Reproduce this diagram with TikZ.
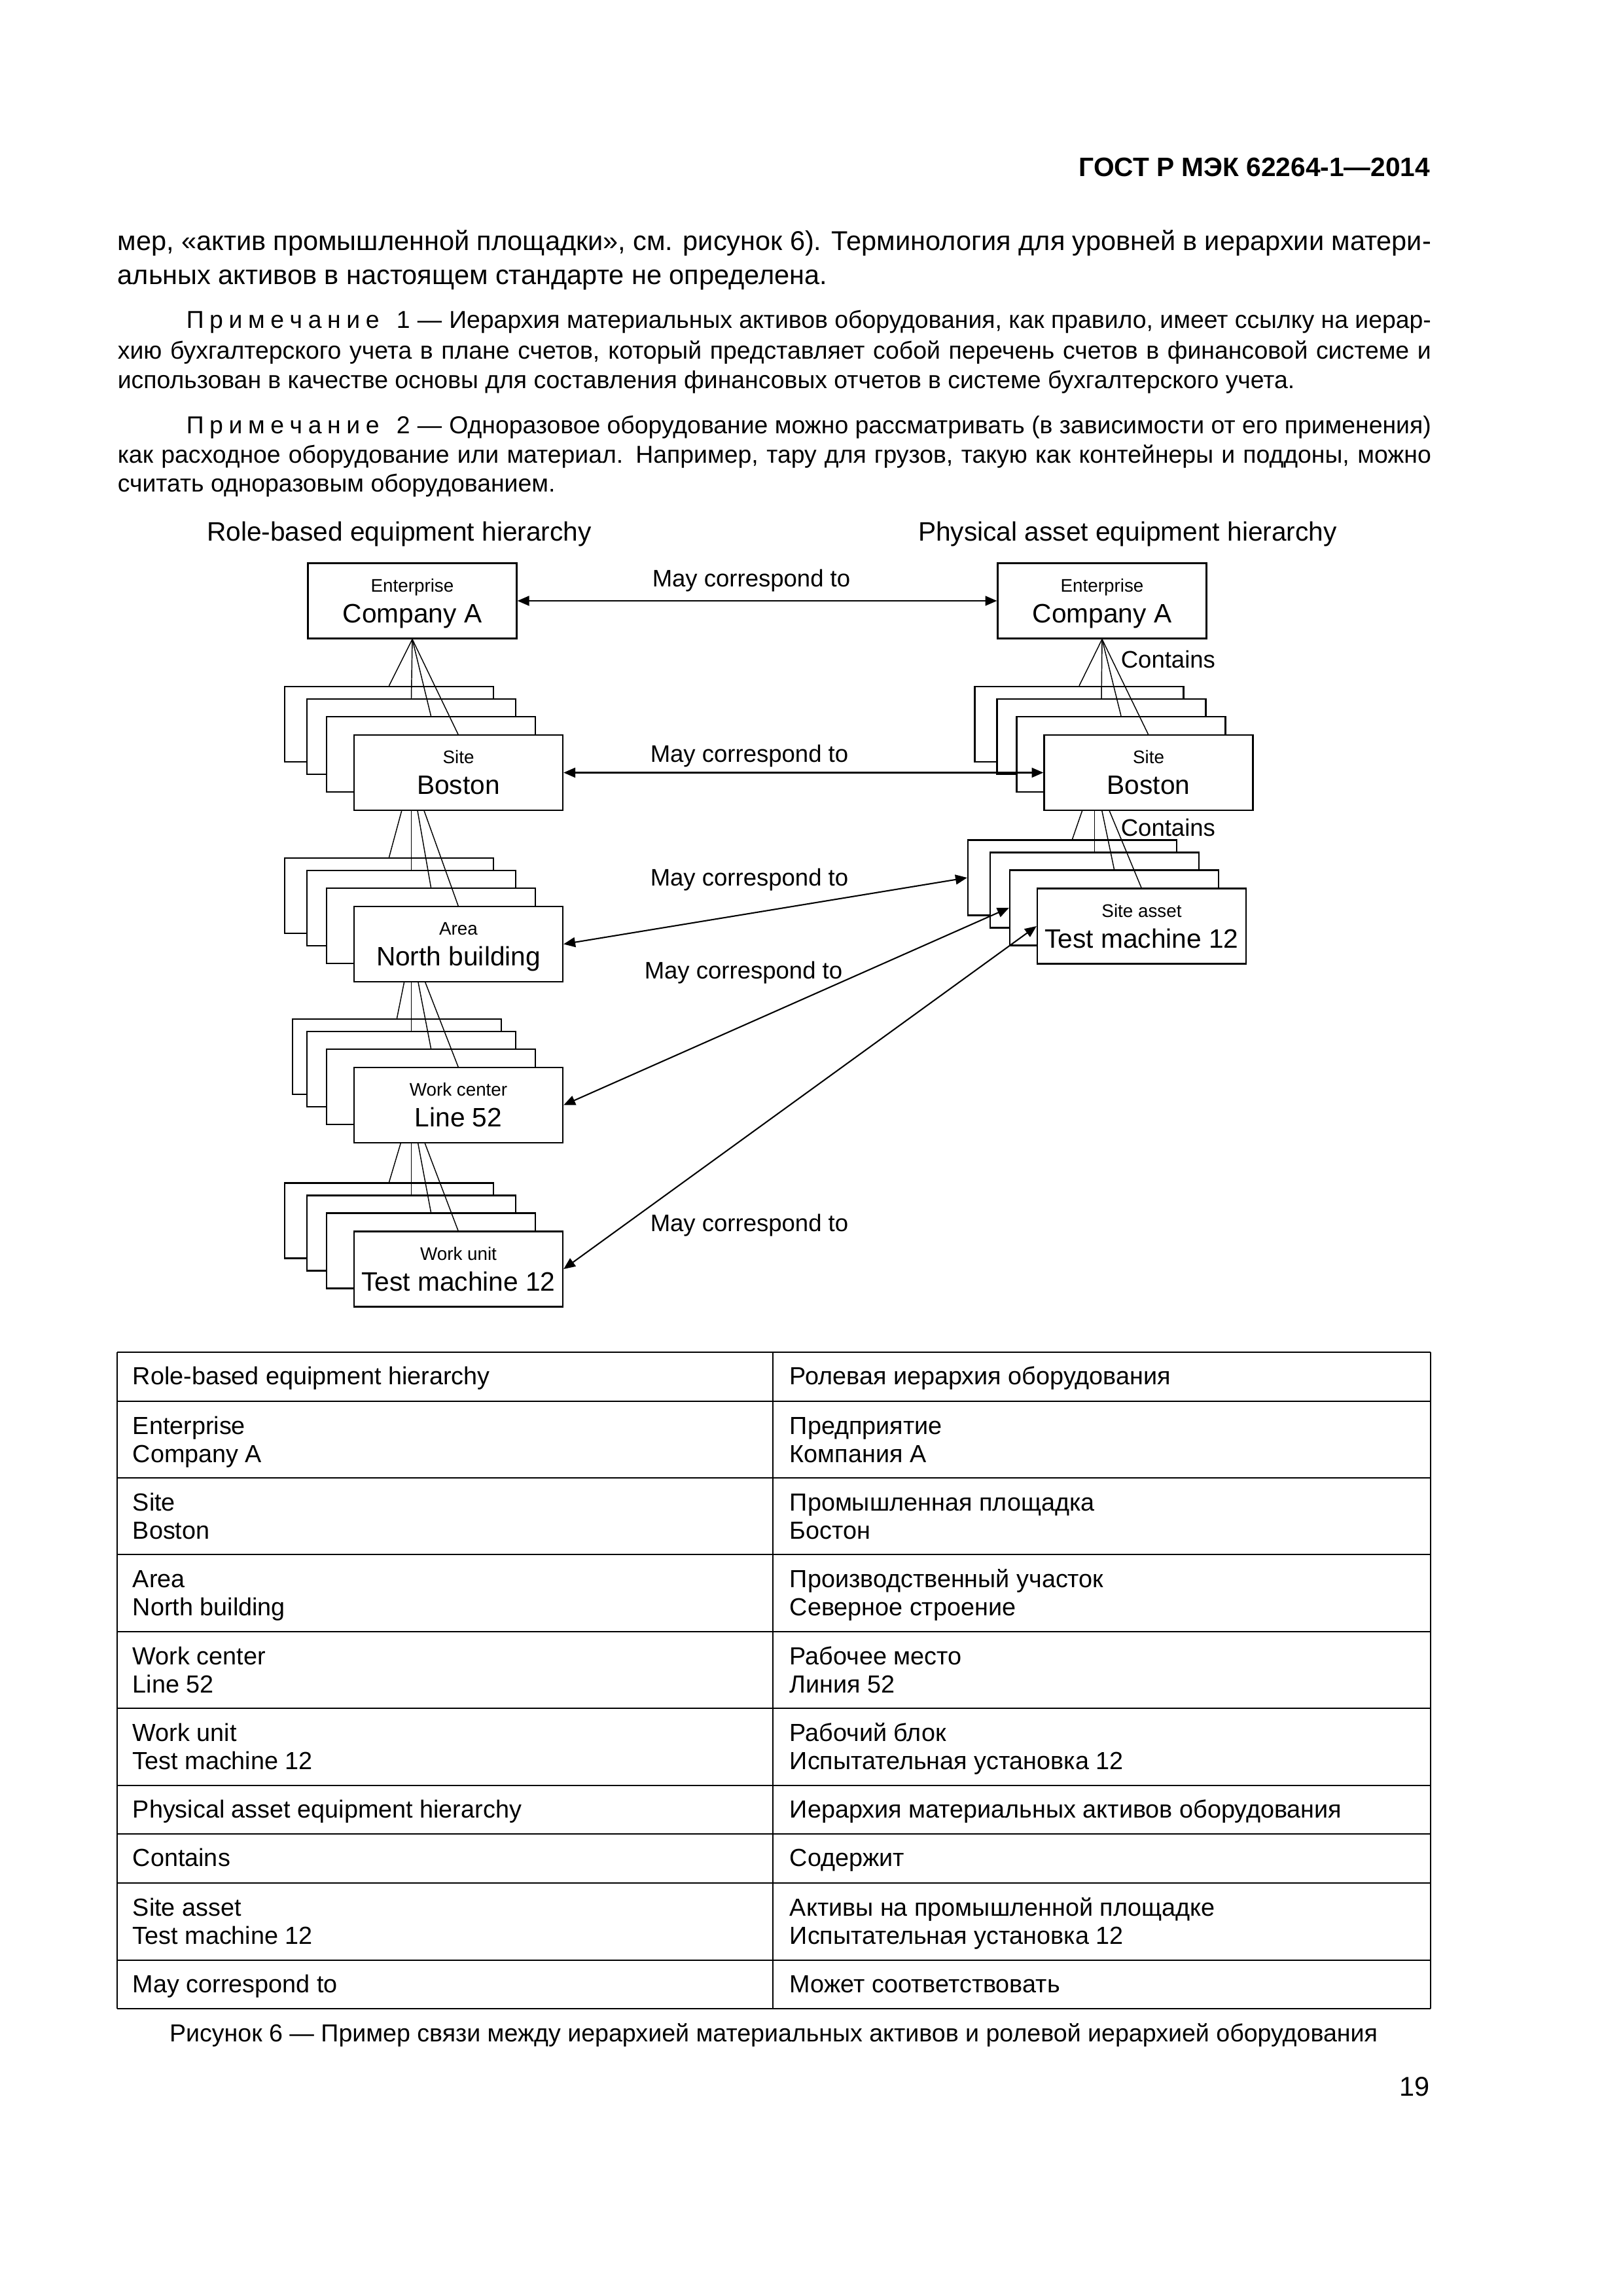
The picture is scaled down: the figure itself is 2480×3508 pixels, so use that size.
\documentclass[tikz,border=0pt]{standalone}
\usepackage{fontspec}
\setmainfont{Liberation Sans}
\usetikzlibrary{arrows.meta}
\newlength\bodywidth
\setlength\bodywidth{169.93mm}

\begin{document}
\begin{tikzpicture}[x=0.084667mm,y=-0.084667mm,
  unit/.style={draw,fill=white,line width=0.55pt,minimum width=27.01mm,minimum height=9.74mm,inner sep=0pt},
  kind/.style={anchor=base,inner sep=0pt,font=\fontsize{6.7}{8}\selectfont},
  big/.style={anchor=base,inner sep=0pt,font=\fontsize{9.8}{12}\selectfont},
  rel/.style={inner sep=0pt,font=\fontsize{8.8}{10}\selectfont},
  fan/.style={line width=0.35pt},
  corr/.style={{Triangle[length=4.3pt,width=3.6pt]}-{Triangle[length=4.3pt,width=3.6pt]},line width=0.5pt},
  body/.style={anchor=base west,inner sep=0pt,font=\fontsize{10}{12}\selectfont},
  note/.style={anchor=base west,inner sep=0pt,font=\fontsize{9}{11}\selectfont},
  cell/.style={anchor=base west,inner sep=0pt,font=\fontsize{9.1}{11}\selectfont},
  tabrule/.style={line width=0.7pt}]
\useasboundingbox[fill=white] (0,0) rectangle (2480,3508);

\node[anchor=base east,inner sep=0pt,font=\fontsize{9.8}{12}\selectfont\bfseries] (gost) at (2186,269) {ГОСТ Р МЭК 62264-1—2014};
\node[body] (p1a) at (179,382) {\hbox to\bodywidth{мер, «актив промышленной площадки», см. рисунок 6). Терминология для уровней в иерархии матери-}};
\node[body] (p1b) at (179,434) {альных активов в настоящем стандарте не определена.};
\node[note] (n1a) at (179,501) {\hbox to\bodywidth{\hspace*{8.89mm}П\kern.23em р\kern.23em и\kern.23em м\kern.23em е\kern.23em ч\kern.23em а\kern.23em н\kern.23em и\kern.23em е\kern.7em 1\kern.3em —\kern.3em Иерархия материальных активов оборудования, как правило, имеет ссылку на иерар-}};
\node[note] (n1b) at (179,548) {\hbox to\bodywidth{хию бухгалтерского учета в плане счетов, который представляет собой перечень счетов в финансовой системе и}};
\node[note] (n1c) at (179,593) {использован в качестве основы для составления финансовых отчетов в системе бухгалтерского учета.};
\node[note] (n2a) at (179,662) {\hbox to\bodywidth{\hspace*{8.89mm}П\kern.23em р\kern.23em и\kern.23em м\kern.23em е\kern.23em ч\kern.23em а\kern.23em н\kern.23em и\kern.23em е\kern.7em 2\kern.3em —\kern.3em Одноразовое оборудование можно рассматривать (в зависимости от его применения)}};
\node[note] (n2b) at (179,707) {\hbox to\bodywidth{как расходное оборудование или материал. Например, тару для грузов, такую как контейнеры и поддоны, можно}};
\node[note] (n2c) at (179,751) {считать одноразовым оборудованием.};

\node[big] (roleh) at (610,826) {Role-based equipment hierarchy};
\node[big] (physh) at (1723,826) {Physical asset equipment hierarchy};

\node[unit] (entL) at (630,918) {};
\node[kind] (entLk) at (630,904) {Enterprise};
\node[big] (entLm) at (630,951) {Company A};
\node[unit] (entR) at (1684,918) {};
\node[kind] (entRk) at (1684,904) {Enterprise};
\node[big] (entRm) at (1684,951) {Company A};

\foreach \n/\x/\y/\d in {bos/700.5/1180.5/106, nb/700.5/1442.5/106, ln/700.5/1688.5/94, tm/700.5/1939/106, bosR/1755/1180.5/106, sa/1744.5/1415/106}{
  \node[unit] (\n-1) at (\x-\d,\y-74) {};
  \node[unit] (\n-2) at (\x-72,\y-55) {};
  \node[unit] (\n-3) at (\x-42,\y-28) {};
  \coordinate (\n-top) at (\x,\y-57.5);
}

\foreach \e/\s in {entL/bos, entR/bosR}
  \foreach \t in {\s-1.north,\s-2.north,\s-3.north,\s-top}
    \draw[fan] (\e.south) -- (\t);
\foreach \p/\s in {bos/nb, nb/ln, ln/tm, bosR/sa}
  \foreach \t in {\s-1.north,\s-2.north,\s-3.north,\s-top}
    \draw[fan] (\s-2.north |- \p-2.south) -- (\t);

\foreach \n/\x/\y/\lvl/\val in {bos/700.5/1180.5/Site/Boston, nb/700.5/1442.5/Area/North building, ln/700.5/1688.5/Work center/Line 52, tm/700.5/1939/Work unit/Test machine 12, bosR/1755/1180.5/Site/Boston, sa/1744.5/1415/Site asset/Test machine 12}{
  \node[unit] (\n) at (\x,\y) {};
  \node[kind] (\n-k) at (\x,\y-14) {\lvl};
  \node[big] (\n-m) at (\x,\y+33) {\val};
}

\draw[corr] (entL) -- (entR);
\draw[corr] (bos) -- (bosR);
\draw[corr] (nb.east) -- (sa-1.west);
\draw[corr] (ln.east) -- (sa-3.west);
\draw[corr] (tm.east) -- (sa.west);
\node[rel] (mc1) at (1148,887) {May correspond to};
\node[rel] (mc2) at (1145,1155) {May correspond to};
\node[rel] (mc3) at (1145,1344) {May correspond to};
\node[rel] (mc4) at (1136,1486) {May correspond to};
\node[rel] (mc5) at (1145,1872) {May correspond to};
\node[rel,anchor=west] (ct1) at (1712,1007) {Contains};
\node[rel,anchor=west] (ct2) at (1712,1264) {Contains};

\foreach \y in {2066,2141,2258,2375,2493,2610,2728,2802,2877,2995,3069}
  \draw[tabrule] (179,\y) -- (2186,\y);
\foreach \x in {179,1181,2186}
  \draw[tabrule] (\x,2066) -- (\x,3069);
\foreach \t/\ea/\ra [count=\i] in {2066/Role-based equipment hierarchy/Ролевая иерархия оборудования, 2728/Physical asset equipment hierarchy/Иерархия материальных активов оборудования, 2802/Contains/Содержит, 2995/May correspond to/Может соответствовать}{
  \node[cell] (ta\i) at (202,\t+49) {\ea};
  \node[cell] (tb\i) at (1206,\t+49) {\ra};
}
\foreach \t/\ea/\eb/\ra/\rb [count=\i] in {2141/Enterprise/Company A/Предприятие/Компания А, 2258/Site/Boston/Промышленная площадка/Бостон, 2375/Area/North building/Производственный участок/Северное строение, 2493/Work center/Line 52/Рабочее место/Линия 52, 2610/Work unit/Test machine 12/Рабочий блок/Испытательная установка 12, 2877/Site asset/Test machine 12/Активы на промышленной площадке/Испытательная установка 12}{
  \node[cell] (tc\i) at (202,\t+50) {\ea};
  \node[cell] (td\i) at (202,\t+93) {\eb};
  \node[cell] (te\i) at (1206,\t+50) {\ra};
  \node[cell] (tf\i) at (1206,\t+93) {\rb};
}

\node[anchor=base,inner sep=0pt,font=\fontsize{9.05}{11}\selectfont] (cap) at (1182,3119) {Рисунок 6 — Пример связи между иерархией материальных активов и ролевой иерархией оборудования};
\node[anchor=base east,inner sep=0pt,font=\fontsize{10}{12}\selectfont] (pg) at (2185,3202) {19};
\end{tikzpicture}
\end{document}
